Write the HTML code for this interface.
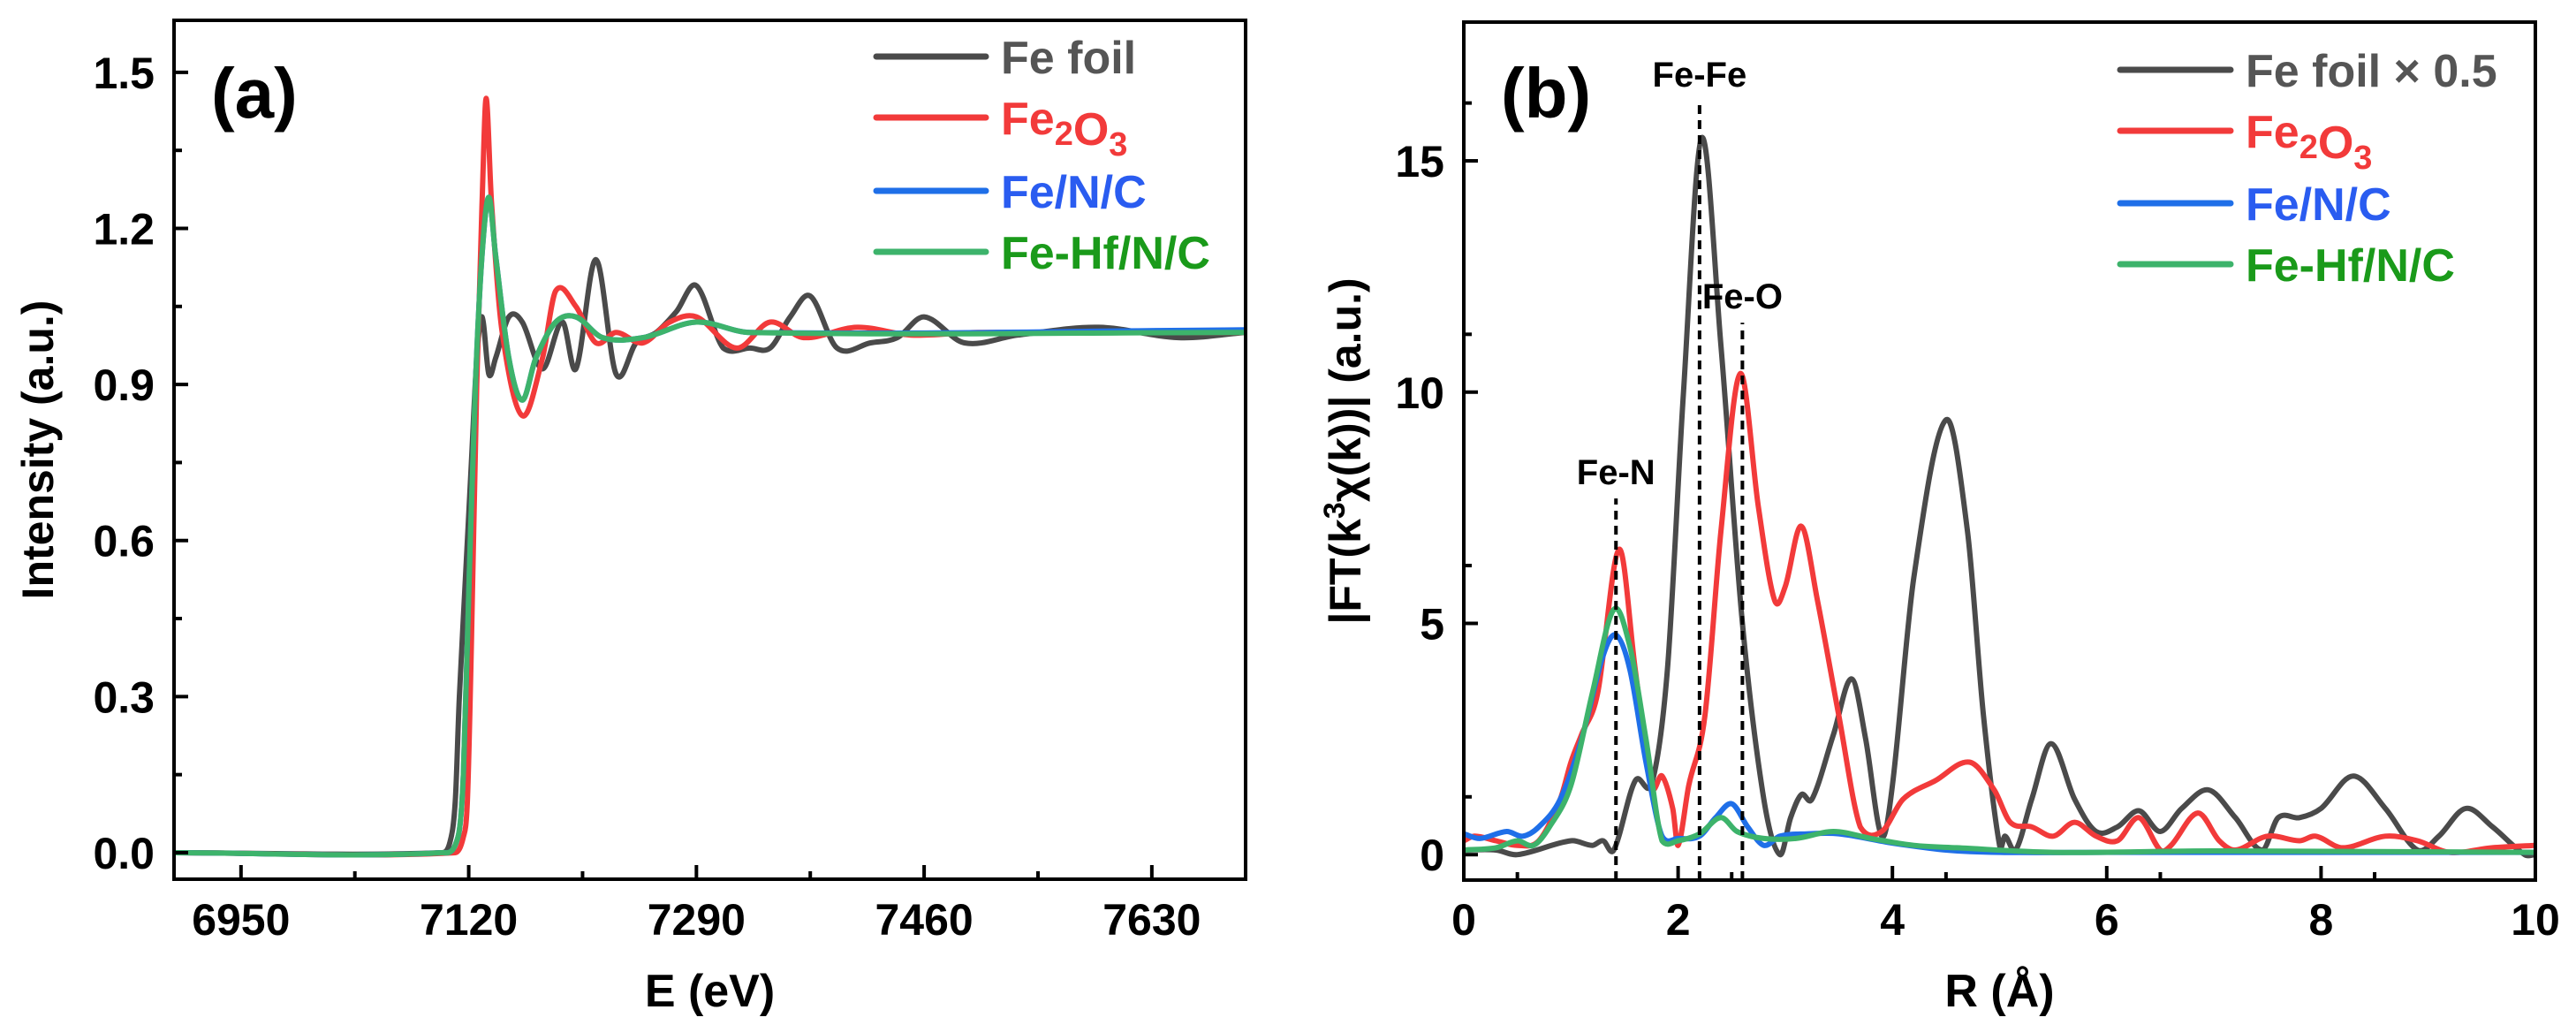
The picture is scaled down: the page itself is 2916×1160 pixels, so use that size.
<!DOCTYPE html>
<html><head><meta charset="utf-8"><style>
html,body{margin:0;padding:0;background:#fff;}
svg{display:block;font-family:"Liberation Sans",Arial,sans-serif;font-weight:bold;}
</style></head><body>
<svg id="chart" width="2916" height="1160" viewBox="0 0 2916 1160" xmlns="http://www.w3.org/2000/svg"></svg>
<script>
// ---- Panel (a) data: XANES ----
const aFoilX=[6900,7100,7106,7110,7113,7117,7122,7126,7130,7135,7140,7150,7160,7175,7190,7200,7215,7230,7245,7260,7275,7290,7310,7330,7345,7360,7375,7395,7420,7440,7460,7490,7530,7590,7650,7700];
const aFoilY=[0,0,0.02,0.1,0.3,0.5,0.75,0.95,1.03,0.92,0.95,1.03,1.02,0.93,1.02,0.93,1.14,0.92,0.98,1.0,1.04,1.09,0.97,0.97,0.97,1.03,1.07,0.97,0.98,0.99,1.03,0.98,0.995,1.01,0.99,1.0];
const aOxX=[6900,7110,7116,7119,7122,7126,7130,7133,7137,7145,7160,7175,7185,7200,7215,7230,7250,7270,7290,7320,7345,7370,7410,7450,7500,7700];
const aOxY=[0,0,0.03,0.1,0.4,0.9,1.25,1.45,1.25,1.0,0.84,0.95,1.08,1.05,0.98,1.0,0.98,1.02,1.03,0.97,1.02,0.99,1.01,0.995,1.0,1.0];
const aFncX=[6900,7100,7112,7116,7120,7125,7130,7135,7140,7150,7160,7170,7185,7200,7220,7250,7290,7330,7700];
const aFncY=[0,0,0.03,0.15,0.5,0.9,1.15,1.26,1.15,0.95,0.87,0.95,1.02,1.03,0.99,0.99,1.02,1.0,1.005];
const aHfX=[6900,7100,7112,7116,7120,7125,7130,7135,7140,7150,7160,7170,7185,7200,7220,7250,7290,7330,7700];
const aHfY=[0,0,0.03,0.15,0.5,0.9,1.15,1.26,1.15,0.95,0.87,0.95,1.02,1.03,0.99,0.99,1.02,1.0,1.0];
const aXTicks=[6950,7120,7290,7460,7630];
const aYTicks=[0,0.3,0.6,0.9,1.2,1.5];
const aYLabels=["0.0","0.3","0.6","0.9","1.2","1.5"];
// ---- Panel (b) data: FT-EXAFS ----
const bFoilX=[0,0.3,0.5,1,1.2,1.3,1.4,1.6,1.75,1.9,2.05,2.22,2.4,2.6,2.8,2.95,3.05,3.15,3.25,3.45,3.62,3.75,3.9,4.0,4.2,4.5,4.7,4.85,5.0,5.05,5.15,5.3,5.48,5.7,5.9,6.1,6.3,6.5,6.7,6.95,7.2,7.45,7.6,7.8,8.0,8.3,8.6,8.9,9.1,9.35,9.6,9.9,10];
const bFoilY=[0.1,0.1,0,0.3,0.2,0.3,0.1,1.6,1.5,4,10,15.5,11,5,1.2,0,0.8,1.3,1.2,2.6,3.8,2.5,0.4,1.5,6,9.4,7,3,0.2,0.4,0.1,1.2,2.4,1.2,0.5,0.6,0.95,0.5,1,1.4,0.8,0.1,0.8,0.8,1.0,1.7,1.0,0.1,0.4,1.0,0.6,0,0];
const bOxX=[0,0.1,0.3,0.5,0.7,0.9,1.0,1.1,1.25,1.45,1.6,1.75,1.85,1.95,2.0,2.1,2.25,2.4,2.58,2.75,2.9,3.0,3.15,3.3,3.5,3.7,3.9,4.1,4.4,4.72,4.95,5.1,5.3,5.5,5.7,5.9,6.1,6.3,6.5,6.6,6.85,7.05,7.2,7.5,7.8,7.95,8.2,8.6,8.9,9.2,9.6,10];
const bOxY=[0.3,0.4,0.3,0.2,0.3,1.2,2,2.6,3.5,6.6,4,1.5,1.7,1,0.2,1.5,3,7,10.4,7.5,5.5,5.8,7.1,5.5,3,0.6,0.5,1.2,1.6,2.0,1.4,0.7,0.6,0.4,0.7,0.4,0.3,0.8,0.1,0.2,0.9,0.3,0.1,0.4,0.3,0.4,0.15,0.4,0.3,0.05,0.15,0.2];
const bFncX=[0,0.15,0.4,0.55,0.7,0.9,1.1,1.3,1.42,1.55,1.7,1.85,2.0,2.2,2.35,2.5,2.65,2.8,2.95,3.2,3.5,4,4.5,5,6,8,10];
const bFncY=[0.45,0.35,0.5,0.4,0.6,1.2,2.5,4.3,4.75,4,2,0.4,0.35,0.4,0.8,1.1,0.6,0.2,0.4,0.45,0.45,0.25,0.1,0.05,0.05,0.05,0.05];
const bHfX=[0,0.3,0.5,0.65,0.8,1.0,1.2,1.4,1.55,1.7,1.85,2.0,2.2,2.4,2.55,2.8,3.1,3.45,3.8,4.2,4.6,5.5,7,10];
const bHfY=[0.1,0.15,0.3,0.2,0.6,1.5,3.5,5.3,4.5,2.5,0.3,0.3,0.45,0.8,0.5,0.35,0.35,0.5,0.35,0.2,0.15,0.05,0.08,0.05];
const bXTicks=[0,2,4,6,8,10];
const bYTicks=[0,5,10,15];
const bMarkX=[1.42,2.2,2.6];
const bMarkTop=[7.7,16.3,11.5];
const bMarkLabels=["Fe-N","Fe-Fe","Fe-O"];

const NS="http://www.w3.org/2000/svg";
const svg=document.getElementById('chart');
function el(tag,attrs,parent){const e=document.createElementNS(NS,tag);for(const k in attrs)e.setAttribute(k,attrs[k]);(parent||svg).appendChild(e);return e;}
function clamp(v,a,b){return Math.max(Math.min(a,b),Math.min(Math.max(a,b),v));}
function smooth(pts){let d="M"+pts[0][0].toFixed(1)+","+pts[0][1].toFixed(1);
 for(let i=0;i<pts.length-1;i++){const p0=pts[Math.max(0,i-1)],p1=pts[i],p2=pts[i+1],p3=pts[Math.min(pts.length-1,i+2)];
  const dx=p2[0]-p1[0];
  let t1=(p2[1]-p0[1])/((p2[0]-p0[0])||1), t2=(p3[1]-p1[1])/((p3[0]-p1[0])||1);
  const c1=[p1[0]+dx/3,clamp(p1[1]+t1*dx/3,p1[1]-Math.abs(p2[1]-p1[1])-8,p1[1]+Math.abs(p2[1]-p1[1])+8)];
  const c2=[p2[0]-dx/3,clamp(p2[1]-t2*dx/3,p2[1]-Math.abs(p2[1]-p1[1])-8,p2[1]+Math.abs(p2[1]-p1[1])+8)];
  d+=" C"+c1[0].toFixed(1)+","+c1[1].toFixed(1)+" "+c2[0].toFixed(1)+","+c2[1].toFixed(1)+" "+p2[0].toFixed(1)+","+p2[1].toFixed(1);}
 return d;}
const COL={gray:"#4a4a4a",red:"#f23a3a",blue:"#1f6fe8",green:"#3db36b"};
const TXT={gray:"#555555",red:"#f23a3a",blue:"#2a5cf0",green:"#1a9a1a"};

function panel(cfg){
 const L=cfg.L,R=cfg.R,T=cfg.T,B=cfg.B;
 const sx=v=>L+(v-cfg.x0)/(cfg.x1-cfg.x0)*(R-L);
 const sy=v=>B-(v-cfg.y0)/(cfg.y1-cfg.y0)*(B-T);
 const g=el('g',{});
 
 
 const clipId=cfg.name+"-clip";
 const cp=el('clipPath',{id:clipId},g);el('rect',{x:L,y:T,width:R-L,height:B-T},cp);
 const sg=el('g',{'clip-path':'url(#'+clipId+')'},g);
 cfg.series.forEach(s=>{
  const pts=s.x.map((v,i)=>[sx(v),sy(s.y[i])]);
  const p=el('path',{d:smooth(pts),fill:'none',stroke:COL[s.c],'stroke-width':6,'stroke-linejoin':'round'},sg);
  
  
 });
 if(cfg.marks){cfg.marks.x.forEach((m,i)=>{
  const ln=el('line',{x1:sx(m),x2:sx(m),y1:B,y2:sy(cfg.marks.top[i]),stroke:'#000','stroke-width':4,'stroke-dasharray':'10,7'},g);
  
  
  const t=el('text',{x:sx(m),y:sy(cfg.marks.top[i])-16,'font-size':40,'text-anchor':'middle',fill:'#000'},g);
  t.textContent=cfg.marks.labels[i];
  
  
 });}
 const fr=el('rect',{x:L,y:T,width:R-L,height:B-T,fill:'none',stroke:'#000','stroke-width':4},g);
 
 
 cfg.xt.forEach((v,i)=>{
  const x=sx(v);
  el('line',{x1:x,x2:x,y1:B,y2:B-16,stroke:'#000','stroke-width':4},g);
  const xm=sx(v+cfg.xstep/2);if(xm<R-2)el('line',{x1:xm,x2:xm,y1:B,y2:B-9,stroke:'#000','stroke-width':4},g);
  const t=el('text',{x:x,y:1058,'font-size':50,'text-anchor':'middle',fill:'#000'},g);
  t.textContent=String(v);
  
  
 });
 {const xm=sx(cfg.xt[0]-cfg.xstep/2);if(xm>L+2)el('line',{x1:xm,x2:xm,y1:B,y2:B-9,stroke:'#000','stroke-width':4},g);}
 cfg.yt.forEach((v,i)=>{
  const y=sy(v);
  el('line',{x1:L,x2:L+16,y1:y,y2:y,stroke:'#000','stroke-width':4},g);
  const ym=sy(v+cfg.ystep/2);if(ym>T+2)el('line',{x1:L,x2:L+9,y1:ym,y2:ym,stroke:'#000','stroke-width':4},g);
  const t=el('text',{x:L-22,y:y+18,'font-size':50,'text-anchor':'end',fill:'#000'},g);
  t.textContent=cfg.yl[i];
  
  
 });
 const xt=el('text',{x:(L+R)/2,y:1139,'font-size':52,'text-anchor':'middle',fill:'#000'},g);
 xt.textContent=cfg.xtitle;
 
 
 const yt=el('text',{x:0,y:0,'font-size':50,'text-anchor':'middle',fill:'#000',transform:'translate('+cfg.ytx+','+(T+B)/2+') rotate(-90)'},g);
 yt.innerHTML=cfg.ytitle;
 
 
 const pl=el('text',{x:L+42,y:133,'font-size':80,fill:'#000'},g);
 pl.textContent=cfg.letter;
 
 
 cfg.legend.rows.forEach((r,i)=>{
  const y=cfg.legend.ys[i];
  const lg=el('g',{},g);
  
  
  el('line',{x1:cfg.legend.x1,x2:cfg.legend.x2,y1:y,y2:y,stroke:COL[r.c],'stroke-width':7,'stroke-linecap':'round'},lg);
  const t=el('text',{x:cfg.legend.tx,y:y+19,'font-size':52,fill:TXT[r.c]},lg);
  t.innerHTML=r.html;
 });
}
const sub=s=>'<tspan font-size="38" dy="12">'+s+'</tspan><tspan dy="-12"></tspan>';
panel({name:'panel-a',L:197,R:1410,T:23,B:995,x0:6900,x1:7700,y0:-0.051,y1:1.6,xt:aXTicks,xstep:170,yt:aYTicks,yl:aYLabels,ystep:0.3,
 xtitle:'E (eV)',ytitle:'Intensity (a.u.)',ytx:60,letter:'(a)',
 series:[{id:'series-fe-foil',x:aFoilX,y:aFoilY,c:'gray'},{id:'series-fe2o3',x:aOxX,y:aOxY,c:'red'},{id:'series-fe-n-c',x:aFncX,y:aFncY,c:'blue'},{id:'series-fe-hf-n-c',x:aHfX,y:aHfY,c:'green'}],
 legend:{x1:992,x2:1116,tx:1133,ys:[64,133,216,285],rows:[{id:'fe-foil',c:'gray',html:'Fe foil'},{id:'fe2o3',c:'red',html:'Fe'+sub('2')+'O'+sub('3')},{id:'fe-n-c',c:'blue',html:'Fe/N/C'},{id:'fe-hf-n-c',c:'green',html:'Fe-Hf/N/C'}]}});
panel({name:'panel-b',L:1657,R:2870,T:25,B:996,x0:0,x1:10,y0:-0.55,y1:18,xt:bXTicks,xstep:1,yt:bYTicks,yl:bYTicks.map(String),ystep:2.5,
 xtitle:'R (Å)',ytitle:'|FT(k<tspan font-size="34" dy="-18">3</tspan><tspan dy="18">χ(k))| (a.u.)</tspan>',ytx:1540,letter:'(b)',
 marks:{x:bMarkX,top:bMarkTop,labels:bMarkLabels},
 series:[{id:'series-fe-foil-x0.5',x:bFoilX,y:bFoilY,c:'gray'},{id:'series-fe2o3',x:bOxX,y:bOxY,c:'red'},{id:'series-fe-n-c',x:bFncX,y:bFncY,c:'blue'},{id:'series-fe-hf-n-c',x:bHfX,y:bHfY,c:'green'}],
 legend:{x1:2400,x2:2525,tx:2542,ys:[79,148,230,299],rows:[{id:'fe-foil',c:'gray',html:'Fe foil × 0.5'},{id:'fe2o3',c:'red',html:'Fe'+sub('2')+'O'+sub('3')},{id:'fe-n-c',c:'blue',html:'Fe/N/C'},{id:'fe-hf-n-c',c:'green',html:'Fe-Hf/N/C'}]}});
</script>
</body></html>
